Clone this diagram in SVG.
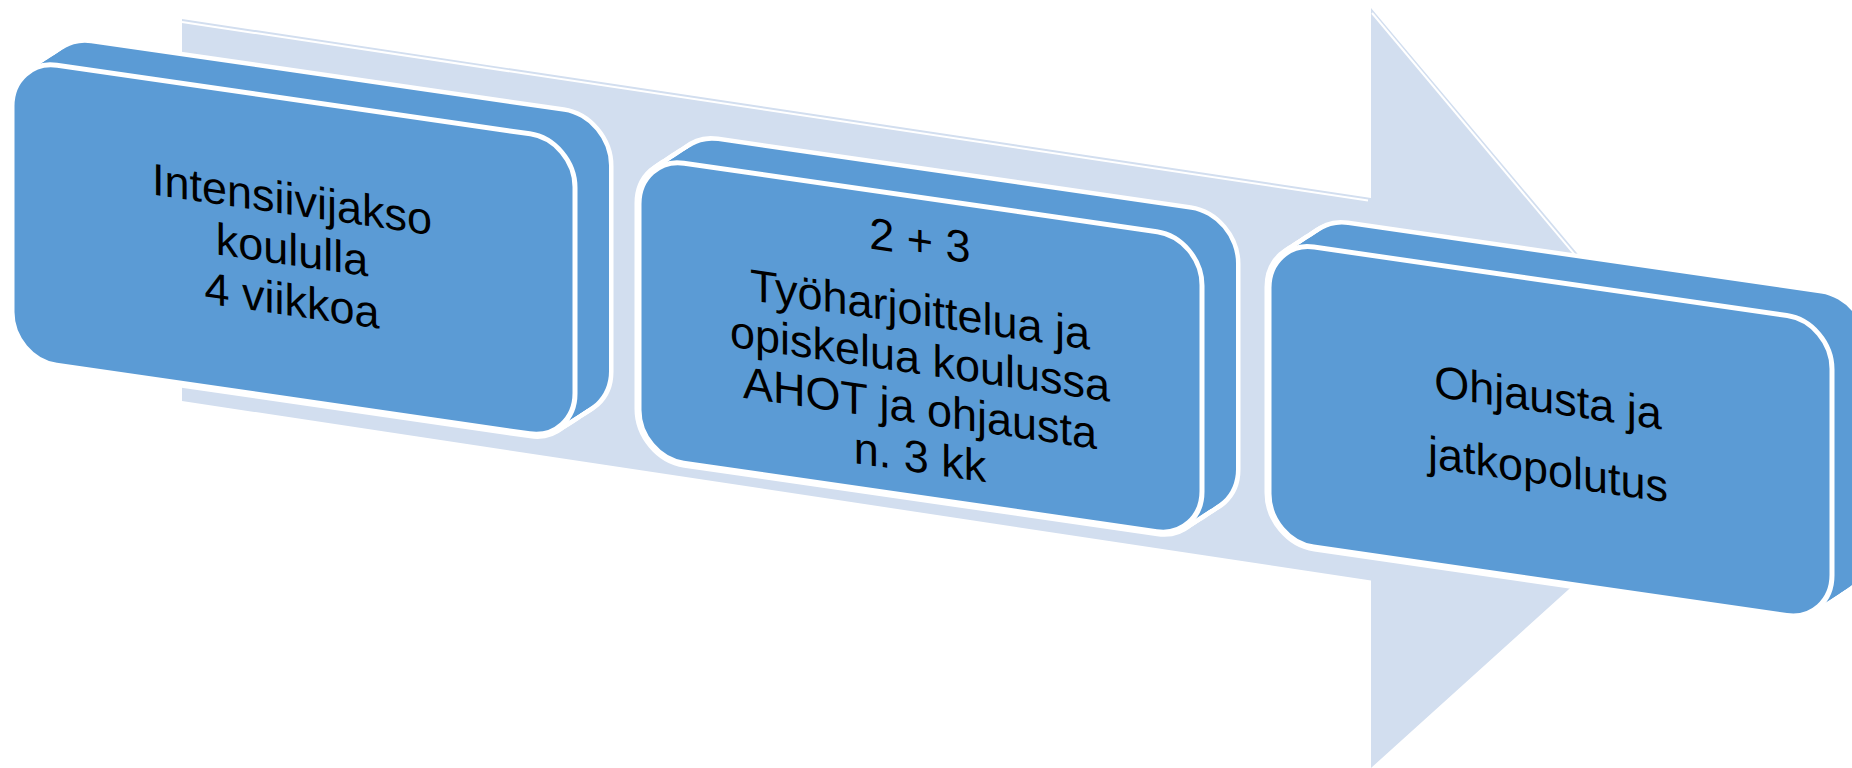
<svg xmlns="http://www.w3.org/2000/svg" xmlns:xlink="http://www.w3.org/1999/xlink" width="1852" height="768" viewBox="0 0 1852 768">
<style>
.arrow{fill:#D2DEEF}
.bevel{fill:none;stroke:#ffffff;stroke-width:2}
.es{fill:none;stroke:#ffffff;stroke-width:9;stroke-linejoin:round}
.ef{fill:#5B9BD5;stroke:none}
.front{fill:#5B9BD5;stroke:#ffffff;stroke-width:5}
.lbl{font-family:"Liberation Sans",Arial,sans-serif;font-size:45px;fill:#000000;text-anchor:middle}
</style>
<defs>
<rect id="face" x="0" y="0" width="563" height="300" rx="45" ry="47"/>
<g id="solid">
<use href="#face" class="es"/>
<use href="#face" class="es" transform="translate(3.4,-2.7)"/>
<use href="#face" class="es" transform="translate(6.8,-5.4)"/>
<use href="#face" class="es" transform="translate(10.2,-8.1)"/>
<use href="#face" class="es" transform="translate(13.6,-10.8)"/>
<use href="#face" class="es" transform="translate(17,-13.5)"/>
<use href="#face" class="es" transform="translate(20.4,-16.2)"/>
<use href="#face" class="es" transform="translate(23.8,-18.9)"/>
<use href="#face" class="es" transform="translate(27.2,-21.6)"/>
<use href="#face" class="es" transform="translate(30.6,-24.3)"/>
<use href="#face" class="es" transform="translate(34,-27)"/>
<use href="#face" class="ef"/>
<use href="#face" class="ef" transform="translate(3.4,-2.7)"/>
<use href="#face" class="ef" transform="translate(6.8,-5.4)"/>
<use href="#face" class="ef" transform="translate(10.2,-8.1)"/>
<use href="#face" class="ef" transform="translate(13.6,-10.8)"/>
<use href="#face" class="ef" transform="translate(17,-13.5)"/>
<use href="#face" class="ef" transform="translate(20.4,-16.2)"/>
<use href="#face" class="ef" transform="translate(23.8,-18.9)"/>
<use href="#face" class="ef" transform="translate(27.2,-21.6)"/>
<use href="#face" class="ef" transform="translate(30.6,-24.3)"/>
<use href="#face" class="ef" transform="translate(34,-27)"/>
<use href="#face" class="front"/>
</g>
</defs>
<rect width="1852" height="768" fill="#ffffff"/>
<g id="connectors">
<polygon class="arrow" points="182,19 1371,198 1371,8 1734,440 1371,768 1371,580.5 182,401"/>
<polyline class="bevel" points="182,22 1368,200.5"/>
<polyline class="bevel" points="1372,13 1731,441"/>
</g>
<g id="node1" transform="matrix(1,0.145,0,1,0,0)">
<use href="#solid" transform="translate(12,57)"/>
<text class="lbl" x="292" y="172.5">Intensiivijakso</text>
<text class="lbl" x="292" y="223">koululla</text>
<text class="lbl" x="292" y="273.5">4 viikkoa</text>
</g>
<g id="node2" transform="matrix(1,0.145,0,1,0,0)">
<use href="#solid" transform="translate(639,64)"/>
<text class="lbl" x="920" y="122.4">2 + 3</text>
<text class="lbl" x="920" y="191.5">Työharjoittelua ja</text>
<text class="lbl" x="920" y="240.7">opiskelua koulussa</text>
<text class="lbl" x="920" y="290">AHOT ja ohjausta</text>
<text class="lbl" x="920" y="339.2">n. 3 kk</text>
</g>
<g id="node3" transform="matrix(1,0.145,0,1,0,0)">
<use href="#solid" transform="translate(1269,56.5)"/>
<text class="lbl" x="1548" y="188.5">Ohjausta ja</text>
<text class="lbl" x="1548" y="260.5">jatkopolutus</text>
</g>
</svg>
